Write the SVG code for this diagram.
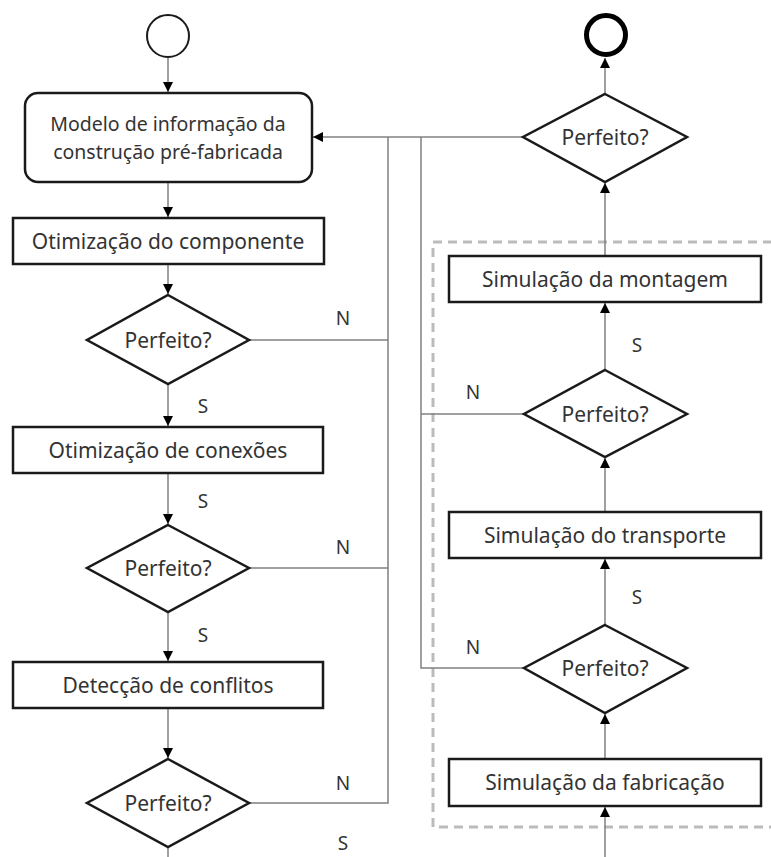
<svg xmlns="http://www.w3.org/2000/svg" width="771" height="857" viewBox="0 0 771 857">
<style>
.box{fill:#fff;stroke:#1a1a1a;stroke-width:2.5}
.dia{fill:#fff;stroke:#1a1a1a;stroke-width:2.5;stroke-linejoin:miter}
.t{font-family:"Noto Sans","Open Sans",sans-serif;font-size:21px;fill:#333;text-anchor:middle}
.lbl{font-family:"Noto Sans","Open Sans",sans-serif;font-size:19px;fill:#333;text-anchor:middle}
.c{fill:none;stroke:#808080;stroke-width:1.5}
.ca{fill:none;stroke:#808080;stroke-width:1.5;marker-end:url(#ah)}
</style>
<defs>
<marker id="ah" viewBox="0 0 10 10" refX="10" refY="5" markerWidth="10" markerHeight="10" markerUnits="userSpaceOnUse" orient="auto">
<path d="M0,0 L10,5 L0,10 Z" fill="#000"/>
</marker>
</defs>
<rect x="433" y="242" width="345" height="585" fill="none" stroke="#bbb" stroke-width="3" stroke-dasharray="9,6"/>
<g id="connectors">
<line class="ca" x1="168" y1="58" x2="168" y2="92"/>
<line class="ca" x1="168" y1="182" x2="168" y2="217"/>
<line class="ca" x1="168" y1="264" x2="168" y2="294"/>
<line class="ca" x1="168" y1="385" x2="168" y2="426"/>
<line class="ca" x1="168" y1="473" x2="168" y2="524"/>
<line class="ca" x1="168" y1="612" x2="168" y2="661"/>
<line class="ca" x1="168" y1="708" x2="168" y2="758"/>
<line class="c" x1="168" y1="847" x2="168" y2="857"/>
<polyline class="c" points="249,340 388,340"/>
<polyline class="c" points="249,568 388,568"/>
<polyline class="c" points="249,803 388,803 388,137"/>
<line class="ca" x1="523" y1="137" x2="313" y2="137"/>
<polyline class="c" points="524,414 421,414"/>
<polyline class="c" points="524,668 421,668 421,137"/>
<line class="ca" x1="605" y1="93" x2="605" y2="58"/>
<line class="ca" x1="605" y1="256" x2="605" y2="183"/>
<line class="ca" x1="605" y1="370" x2="605" y2="303"/>
<line class="ca" x1="605" y1="512" x2="605" y2="458"/>
<line class="ca" x1="605" y1="625" x2="605" y2="559"/>
<line class="ca" x1="605" y1="759" x2="605" y2="714"/>
<line class="ca" x1="605" y1="857" x2="605" y2="807"/>
<text class="lbl" x="343" y="325">N</text>
<text class="lbl" x="203" y="413">S</text>
<text class="lbl" x="203" y="508">S</text>
<text class="lbl" x="343" y="554">N</text>
<text class="lbl" x="203" y="642">S</text>
<text class="lbl" x="343" y="790">N</text>
<text class="lbl" x="343" y="850">S</text>
<text class="lbl" x="637" y="352">S</text>
<text class="lbl" x="473" y="399">N</text>
<text class="lbl" x="637" y="604">S</text>
<text class="lbl" x="473" y="654">N</text>
</g>
<g id="start"><circle cx="168" cy="36" r="21" fill="#fff" stroke="#1a1a1a" stroke-width="2"/></g>
<g id="end"><circle cx="606" cy="35" r="19.5" fill="#fff" stroke="#000" stroke-width="5"/></g>
<g id="modelo">
<rect class="box" x="25" y="93" width="287" height="89" rx="13"/>
<text class="t" x="168" y="131" style="font-size:19.5px">Modelo de informação da</text>
<text class="t" x="168" y="159" style="font-size:19.5px">construção pré-fabricada</text>
</g>
<g id="otim-comp">
<rect class="box" x="13" y="218" width="311" height="46"/>
<text class="t" x="168" y="249">Otimização do componente</text>
</g>
<g id="dec1">
<polygon class="dia" points="168,295 249,340 168,384 87,340"/>
<text class="t" x="168" y="348">Perfeito?</text>
</g>
<g id="otim-con">
<rect class="box" x="13" y="427" width="310" height="46"/>
<text class="t" x="168" y="458">Otimização de conexões</text>
</g>
<g id="dec2">
<polygon class="dia" points="168,525 249,568 168,612 87,568"/>
<text class="t" x="168" y="576">Perfeito?</text>
</g>
<g id="deteccao">
<rect class="box" x="13" y="662" width="310" height="46"/>
<text class="t" x="168" y="693">Detecção de conflitos</text>
</g>
<g id="dec3">
<polygon class="dia" points="168,759 249,803 168,847 87,803"/>
<text class="t" x="168" y="811">Perfeito?</text>
</g>
<g id="dec-top">
<polygon class="dia" points="605,94 687,137 605,182 523,137"/>
<text class="t" x="605" y="145">Perfeito?</text>
</g>
<g id="montagem">
<rect class="box" x="449" y="256" width="312" height="46"/>
<text class="t" x="605" y="287">Simulação da montagem</text>
</g>
<g id="dec4">
<polygon class="dia" points="605,370 687,414 605,457 524,414"/>
<text class="t" x="605" y="422">Perfeito?</text>
</g>
<g id="transporte">
<rect class="box" x="449" y="512" width="312" height="46"/>
<text class="t" x="605" y="543">Simulação do transporte</text>
</g>
<g id="dec5">
<polygon class="dia" points="605,625 687,668 605,713 524,668"/>
<text class="t" x="605" y="676">Perfeito?</text>
</g>
<g id="fabricacao">
<rect class="box" x="449" y="759" width="312" height="47"/>
<text class="t" x="605" y="790">Simulação da fabricação</text>
</g>
</svg>
